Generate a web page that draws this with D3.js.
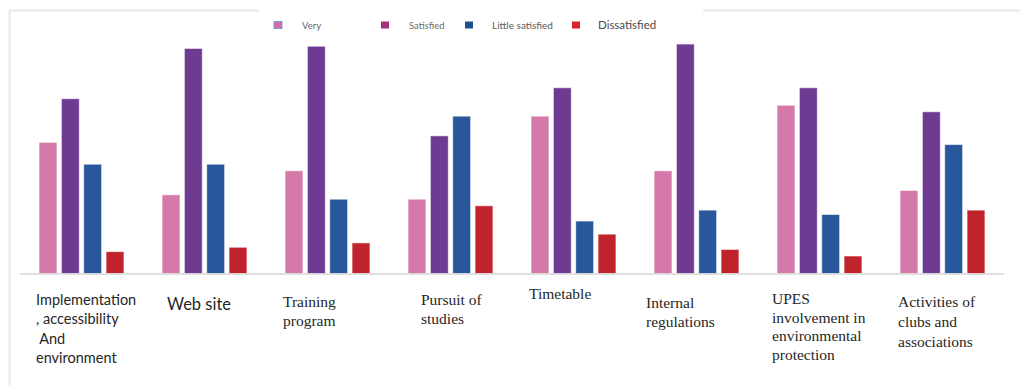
<!DOCTYPE html>
<html>
<head>
<meta charset="utf-8">
<script src="https://cdn.jsdelivr.net/npm/d3@7/dist/d3.min.js"></script>
<style>
  html, body { margin: 0; padding: 0; background: #ffffff; }
  svg { display: block; }
  .serif { font-family: "Liberation Serif", "Times New Roman", "DejaVu Serif", serif; }
  .sans { font-family: Lato, "Open Sans", sans-serif; }
</style>
</head>
<body>
<svg id="chart" width="1020" height="387"></svg>
<script>
// Satisfaction survey: share of respondents (%) per aspect
const categories = [
  "Implementation, accessibility And environment",
  "Web site",
  "Training program",
  "Pursuit of studies",
  "Timetable",
  "Internal regulations",
  "UPES involvement in environmental protection",
  "Activities of clubs and associations"
];
const seriesNames = ["Very", "Satisfied", "Little satisfied", "Dissatisfied"];
const very         = [30, 18, 23.5, 17, 36, 23.5, 38.5, 19];
const satisfied    = [40, 51.5, 52, 31.5, 42.5, 52.5, 42.5, 37];
const littleSat    = [25, 25, 17, 36, 12, 14.5, 13.5, 29.5];
const dissatisfied = [5, 6, 7, 15.5, 9, 5.5, 4, 14.5];

// Category labels as they wrap under each group
const labelLines = [
  ["Implementation", ", accessibility", " And", "environment"],
  ["Web site"],
  ["Training", "program"],
  ["Pursuit of", "studies"],
  ["Timetable"],
  ["Internal", "regulations"],
  ["UPES", "involvement in", "environmental", "protection"],
  ["Activities of", "clubs and", "associations"]
];

const barColors = ["#d579ab", "#6f3a92", "#28579b", "#c0232c"];
const legendColors = ["#d46aa6", "#a2307e", "#1f4f91", "#d8252e"];

const seriesValues = [very, satisfied, littleSat, dissatisfied];
const data = categories.map((c, i) => ({
  category: c,
  values: seriesNames.map((s, k) => ({ key: s, k, value: seriesValues[k][i] }))
}));

const svg = d3.select("#chart");
const W = 1020, H = 387;
svg.append("rect").attr("width", W).attr("height", H).attr("fill", "#fff");

// Light frame around the figure
const frame = svg.append("g").attr("stroke", "#e9e9e9").attr("stroke-width", 2).attr("fill", "none");
frame.append("line").attr("x1", 9.5).attr("x2", 9.5).attr("y1", 10).attr("y2", 385);
frame.append("line").attr("x1", 9).attr("x2", 259).attr("y1", 10.5).attr("y2", 10.5);
frame.append("line").attr("x1", 703).attr("x2", 1020).attr("y1", 10.5).attr("y2", 10.5);

const baseY = 273.5;
const plotLeft = 20, plotRight = 1004;

const x0 = d3.scaleBand()
  .domain(categories)
  .range([plotLeft, plotRight])
  .paddingInner(0.31)
  .paddingOuter(0.155);

const x1 = d3.scaleBand()
  .domain(seriesNames)
  .range([0, x0.bandwidth()])
  .paddingInner(0.2);

const y = d3.scaleLinear().domain([0, 100]).range([baseY, baseY - 437]);

const color = d3.scaleOrdinal().domain(seriesNames).range(barColors);

// Bars
const groups = svg.append("g")
  .selectAll("g")
  .data(data)
  .join("g")
  .attr("transform", d => `translate(${x0(d.category)},0)`);

groups.selectAll("rect")
  .data(d => d.values)
  .join("rect")
  .attr("x", d => x1(d.key))
  .attr("width", x1.bandwidth())
  .attr("y", d => y(d.value))
  .attr("height", d => y(0) - y(d.value))
  .attr("fill", d => color(d.key))
  .attr("stroke", "#ffffff")
  .attr("stroke-opacity", 0.55)
  .attr("stroke-width", 1);

// Baseline
svg.append("line")
  .attr("x1", plotLeft).attr("x2", plotRight)
  .attr("y1", baseY + 0.5).attr("y2", baseY + 0.5)
  .attr("stroke", "#d6d6d6").attr("stroke-width", 1.5);

// Category labels
const labelLayout = [
  { dx: 16, y0: 305, lh: 19.3, cls: "sans",  size: 14.5 },
  { dx: 24, y0: 310, lh: 19,   cls: "sans",  size: 16.5 },
  { dx: 17, y0: 307, lh: 18.5, cls: "serif", size: 15.5 },
  { dx: 32, y0: 305, lh: 18.5, cls: "serif", size: 15.5 },
  { dx: 17, y0: 299, lh: 18.5, cls: "serif", size: 15.5 },
  { dx: 11, y0: 308, lh: 19,   cls: "serif", size: 15.5 },
  { dx: 14, y0: 304, lh: 18.5, cls: "serif", size: 15.5 },
  { dx: 17, y0: 307, lh: 20,   cls: "serif", size: 15.5 }
];

categories.forEach((c, i) => {
  const L = labelLayout[i];
  const lx = x0(c) - x0.step() * 0.155 + L.dx;
  const t = svg.append("text")
    .attr("class", L.cls)
    .attr("x", lx)
    .attr("y", L.y0)
    .attr("font-size", L.size)
    .attr("fill", "#262626")
    .style("white-space", "pre");
  labelLines[i].forEach((line, j) => {
    t.append("tspan")
      .attr("x", lx)
      .attr("y", L.y0 + j * L.lh)
      .text(line);
  });
});

// Legend
const legendBox = svg.append("g");
const legendItems = [
  { sx: 274, tx: 302, size: 9.5, fill: "#6a6a6a" },
  { sx: 381, tx: 409, size: 9.5, fill: "#6a6a6a" },
  { sx: 465, tx: 492, size: 10,  fill: "#5a5a5a" },
  { sx: 572, tx: 598, size: 11.5, fill: "#4a4a4a" }
];
seriesNames.forEach((s, k) => {
  const it = legendItems[k];
  legendBox.append("rect")
    .attr("x", it.sx).attr("y", 21.5)
    .attr("width", 8).attr("height", 7)
    .attr("fill", legendColors[k])
    .attr("stroke", k === 0 ? "#7e9bd8" : "none")
    .attr("stroke-width", 1);
  legendBox.append("text")
    .attr("class", "sans")
    .attr("x", it.tx).attr("y", 28.5)
    .attr("font-size", it.size)
    .attr("fill", it.fill)
    .text(s);
});
</script>
</body>
</html>
